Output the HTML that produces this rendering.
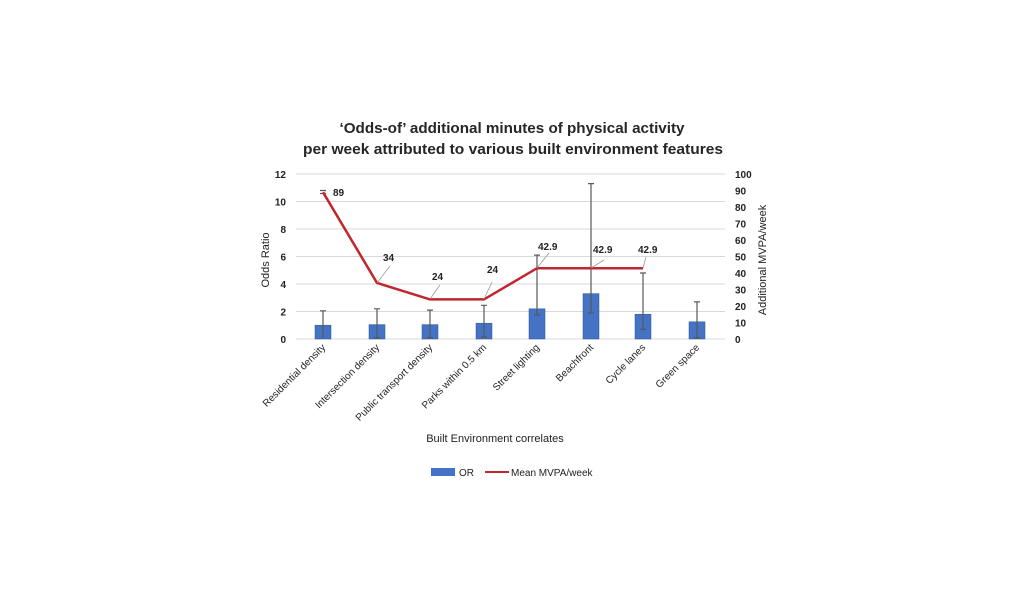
<!DOCTYPE html>
<html><head><meta charset="utf-8"><style>
html,body{margin:0;padding:0;background:#fff;}
svg{display:block;font-family:"Liberation Sans",sans-serif;}
</style></head><body>
<svg width="1024" height="594" viewBox="0 0 1024 594" xmlns="http://www.w3.org/2000/svg">
<rect width="1024" height="594" fill="#fff"/>
<g font-weight="bold" fill="#262626" font-size="15" text-anchor="middle">
<text x="512" y="133" textLength="345" lengthAdjust="spacingAndGlyphs">‘Odds-of’ additional minutes of physical activity</text>
<text x="513" y="154" textLength="420" lengthAdjust="spacingAndGlyphs">per week attributed to various built environment features</text>
</g>
<g stroke="#d9d9d9" stroke-width="1">
<line x1="296" x2="725" y1="174" y2="174"/><line x1="296" x2="725" y1="201.5" y2="201.5"/>
<line x1="296" x2="725" y1="229" y2="229"/><line x1="296" x2="725" y1="256.5" y2="256.5"/>
<line x1="296" x2="725" y1="284" y2="284"/><line x1="296" x2="725" y1="311.5" y2="311.5"/>
<line x1="296" x2="725" y1="339" y2="339"/>
</g>
<g font-size="10" fill="#222" text-anchor="end" font-weight="bold">
<text x="286" y="178">12</text><text x="286" y="205.5">10</text><text x="286" y="233">8</text>
<text x="286" y="260.5">6</text><text x="286" y="288">4</text><text x="286" y="315.5">2</text><text x="286" y="343">0</text>
</g>
<g font-size="10" fill="#222" font-weight="bold">
<text x="735" y="178">100</text><text x="735" y="194.5">90</text><text x="735" y="211">80</text>
<text x="735" y="227.5">70</text><text x="735" y="244">60</text><text x="735" y="260.5">50</text>
<text x="735" y="277">40</text><text x="735" y="293.5">30</text><text x="735" y="310">20</text>
<text x="735" y="326.5">10</text><text x="735" y="343">0</text>
</g>
<text transform="translate(269,260) rotate(-90)" font-size="11" fill="#222" text-anchor="middle">Odds Ratio</text>
<text transform="translate(766,260) rotate(-90)" font-size="11" fill="#222" text-anchor="middle">Additional MVPA/week</text>
<g fill="#4472c4" stroke="#2f5597" stroke-width="0.5">
<rect x="315" y="325.2" width="16" height="13.8"/>
<rect x="369" y="324.6" width="16" height="14.4"/>
<rect x="422" y="324.6" width="16" height="14.4"/>
<rect x="476" y="323.2" width="16" height="15.8"/>
<rect x="529" y="308.8" width="16" height="30.2"/>
<rect x="583" y="293.6" width="16" height="45.4"/>
<rect x="635" y="314.2" width="16" height="24.8"/>
<rect x="689" y="321.8" width="16" height="17.2"/>
</g>
<g stroke="#595959" stroke-width="1.2">
<path d="M323 310.8V338 M320 310.8h6"/>
<path d="M377 308.8V337.6 M374 308.8h6 M374 337.6h6"/>
<path d="M430 310.1V337.6 M427 310.1h6 M427 337.6h6"/>
<path d="M484 305.3V337 M481 305.3h6 M481 337h6"/>
<path d="M537 255.1V315 M534 255.1h6 M534 315h6"/>
<path d="M591 183.6V312.9 M588 183.6h6 M588 312.9h6"/>
<path d="M643 273V329.4 M640 273h6 M640 329.4h6"/>
<path d="M697 301.9V337.6 M694 301.9h6 M694 337.6h6"/>
<path d="M320 190.5h6 M320 193.5h6"/>
</g>
<polyline fill="none" stroke="#c0262d" stroke-width="2.5" points="323,192.2 377,282.9 430,299.4 484,299.4 537,268.2 591,268.2 643,268.2"/>
<g stroke="#999" stroke-width="0.8" fill="none">
<path d="M377 283L390 266"/><path d="M430 299L440 285"/><path d="M484 299L492 282"/>
<path d="M537 268L549 253"/><path d="M591 268L604 260"/><path d="M643 268L646 257"/>
</g>
<g font-size="10" fill="#222" font-weight="bold">
<text x="333" y="196">89</text><text x="383" y="261">34</text><text x="432" y="280">24</text>
<text x="487" y="273">24</text><text x="538" y="250">42.9</text><text x="593" y="253">42.9</text>
<text x="638" y="253">42.9</text>
</g>
<g font-size="10" fill="#222" text-anchor="end">
<text transform="translate(326,348) rotate(-45)">Residential density</text>
<text transform="translate(380,348) rotate(-45)">Intersection density</text>
<text transform="translate(433,348) rotate(-45)">Public transport density</text>
<text transform="translate(487,348) rotate(-45)">Parks within 0.5 km</text>
<text transform="translate(540,348) rotate(-45)">Street lighting</text>
<text transform="translate(594,348) rotate(-45)">Beachfront</text>
<text transform="translate(646,348) rotate(-45)">Cycle lanes</text>
<text transform="translate(700,348) rotate(-45)">Green space</text>
</g>
<text x="495" y="442" font-size="11" fill="#222" text-anchor="middle">Built Environment correlates</text>
<rect x="431" y="468" width="24" height="8" fill="#4472c4"/>
<text x="459" y="476" font-size="10" fill="#222">OR</text>
<line x1="485" x2="509" y1="472" y2="472" stroke="#c0262d" stroke-width="2"/>
<text x="511" y="476" font-size="10" fill="#222">Mean MVPA/week</text>
</svg>
</body></html>
